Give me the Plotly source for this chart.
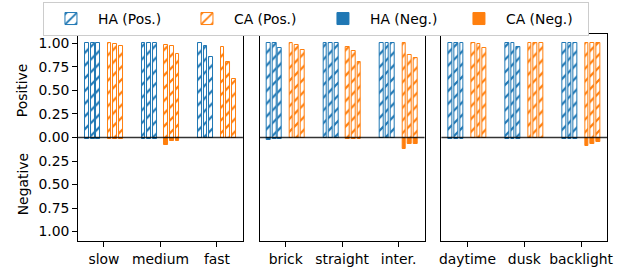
import plotly.graph_objects as go

# ---------------- data ----------------
panel_categories = [
    ["slow", "medium", "fast"],
    ["brick", "straight", "inter."],
    ["daytime", "dusk", "backlight"],
]

# three values (one per model) for each category, panel by panel
ha_pos = [
    [[1.00, 1.00, 1.00], [1.00, 1.00, 1.00], [1.00, 0.97, 0.86]],
    [[1.00, 1.00, 0.955], [1.00, 1.00, 1.00], [1.00, 1.00, 1.00]],
    [[1.00, 1.00, 1.00], [1.00, 1.00, 0.965], [1.00, 1.00, 1.00]],
]
ca_pos = [
    [[1.00, 0.99, 0.97], [0.98, 0.97, 0.89], [0.965, 0.805, 0.62]],
    [[1.00, 0.98, 0.93], [0.965, 0.92, 0.805], [1.00, 0.88, 0.85]],
    [[1.00, 0.99, 0.955], [1.00, 1.00, 1.00], [1.00, 1.00, 1.00]],
]
ha_neg = [
    [[0.015, 0.015, 0.015], [0.015, 0.015, 0.015], [0.003, 0.003, 0.003]],
    [[0.025, 0.015, 0.015], [0.008, 0.008, 0.008], [0.003, 0.003, 0.003]],
    [[0.015, 0.015, 0.015], [0.02, 0.015, 0.015], [0.015, 0.015, 0.015]],
]
ca_neg = [
    [[0.015, 0.015, 0.015], [0.082, 0.036, 0.036], [0.003, 0.003, 0.003]],
    [[0.003, 0.003, 0.003], [0.02, 0.015, 0.015], [0.12, 0.07, 0.07]],
    [[0.003, 0.003, 0.003], [0.003, 0.003, 0.003], [0.09, 0.065, 0.045]],
]

ha_offsets = [-0.3, -0.2, -0.1]
ca_offsets = [0.1, 0.2, 0.3]

y_tick_vals = [-1.0, -0.75, -0.5, -0.25, 0.0, 0.25, 0.5, 0.75, 1.0]
y_tick_text = ["1.00", "0.75", "0.50", "0.25", "0.00", "0.25", "0.50", "0.75", "1.00"]

# ---------------- style ----------------
BLUE = "#1f77b4"
ORANGE = "#ff7f0e"
FONT = "DejaVu Sans"
FS = 13.9
W, H = 631, 269
panel_px = [(77, 244), (261, 428), (445, 613)]
y_top_px, y_bot_px = 34, 241
bar_w = 0.065


def fx(px):
    return px / W


def fy(py):
    return 1 - py / H


fig = go.Figure()


def add_series(p, values, offsets, color, name, hatched, negative, showlegend):
    xs, ys = [], []
    for ci, vals in enumerate(values):
        for j, v in enumerate(vals):
            xs.append(ci + offsets[j])
            ys.append(-v if negative else v)
    xa = "x" if p == 0 else f"x{p+1}"
    ya = "y" if p == 0 else f"y{p+1}"
    marker = dict(color=color, line=dict(color=color, width=1))
    if hatched:
        marker["pattern"] = dict(shape="/", size=9, solidity=0.25,
                                 fgcolor=color, bgcolor="rgba(255,255,255,1)",
                                 fillmode="replace")
    fig.add_trace(go.Bar(
        x=xs, y=ys, width=bar_w, marker=marker, name=name,
        legendgroup=name, showlegend=showlegend, xaxis=xa, yaxis=ya,
    ))


for p in range(3):
    sl = p == 0
    add_series(p, ha_pos[p], ha_offsets, BLUE, "HA (Pos.)", True, False, sl)
    add_series(p, ca_pos[p], ca_offsets, ORANGE, "CA (Pos.)", True, False, sl)
    add_series(p, ha_neg[p], ha_offsets, BLUE, "HA (Neg.)", False, True, sl)
    add_series(p, ca_neg[p], ca_offsets, ORANGE, "CA (Neg.)", False, True, sl)

layout = dict(
    width=W, height=H, autosize=False,
    margin=dict(l=0, r=0, t=0, b=0),
    paper_bgcolor="white", plot_bgcolor="white",
    font=dict(family=FONT, size=FS, color="black"),
    barmode="overlay", bargap=0,
    showlegend=True,
    legend=dict(orientation="h", x=fx(318), xanchor="center",
                y=fy(2), yanchor="top",
                bgcolor="white", bordercolor="#cccccc", borderwidth=1,
                font=dict(family=FONT, size=FS, color="black"),
                traceorder="normal", entrywidth=77, itemwidth=44),
)

y_dom = [fy(y_bot_px), fy(y_top_px)]
shapes = []
for p in range(3):
    sfx = "" if p == 0 else str(p + 1)
    x0, x1 = panel_px[p]
    layout[f"xaxis{sfx}"] = dict(
        domain=[fx(x0), fx(x1)], range=[-0.46, 2.46],
        tickvals=[0, 1, 2], ticktext=panel_categories[p],
        ticks="outside", ticklen=4.9, tickwidth=0.8, tickcolor="black",
        showline=True, linecolor="black", linewidth=1, mirror=True,
        showgrid=False, zeroline=False,
        anchor=f"y{sfx}", fixedrange=True,
        tickfont=dict(family=FONT, size=FS, color="black"),
    )
    ydict = dict(
        domain=y_dom, range=[-1.1, 1.1],
        showline=True, linecolor="black", linewidth=1, mirror=True,
        showgrid=False, zeroline=False, anchor=f"x{sfx}",
        fixedrange=True,
    )
    if p == 0:
        ydict.update(tickvals=y_tick_vals, ticktext=y_tick_text,
                     ticks="outside", ticklen=4.9, tickwidth=0.8,
                     tickcolor="black",
                     tickfont=dict(family=FONT, size=FS, color="black"))
    else:
        ydict.update(showticklabels=False, ticks="", matches="y")
    layout[f"yaxis{sfx}"] = ydict
    shapes.append(dict(type="line", xref=f"x{sfx} domain", yref=f"y{sfx}",
                       x0=0, x1=1, y0=0, y1=0, layer="above",
                       line=dict(color="rgba(0,0,0,0.8)", width=1.3)))

layout["shapes"] = shapes
layout["annotations"] = [
    dict(text="Positive", x=fx(21), y=0.5, xref="paper", yref="y",
         textangle=-90, showarrow=False, xanchor="center", yanchor="middle",
         font=dict(family=FONT, size=FS, color="black")),
    dict(text="Negative", x=fx(21), y=-0.5, xref="paper", yref="y",
         textangle=-90, showarrow=False, xanchor="center", yanchor="middle",
         font=dict(family=FONT, size=FS, color="black")),
]

fig.update_layout(**layout)
fig.write_html(
    "out.html",
    config={"displayModeBar": False},
    post_script="document.body.style.margin='0px';document.body.style.padding='0px';",
)
